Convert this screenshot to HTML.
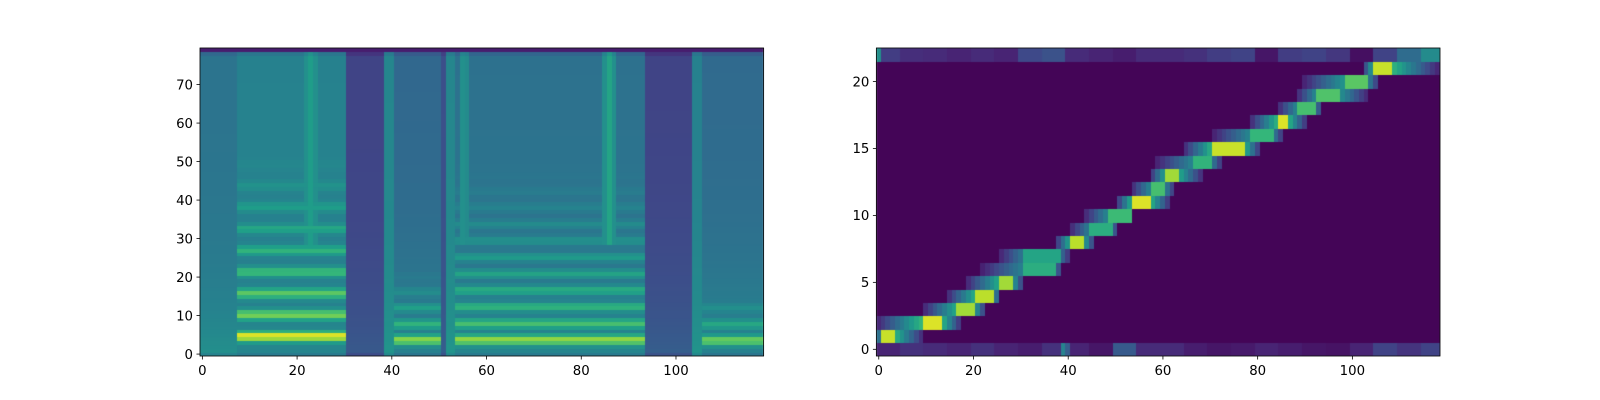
<!DOCTYPE html>
<html><head><meta charset="utf-8">
<style>
html,body{margin:0;padding:0;background:#fff;}
#wrap{position:relative;width:1600px;height:400px;overflow:hidden;}
canvas{position:absolute;left:0;top:0;}
svg{position:absolute;left:0;top:0;}
text{font-family:"DejaVu Sans","Liberation Sans",sans-serif;font-size:13.3px;fill:#000;}
</style></head>
<body>
<div id="wrap">
<canvas id="cv" width="1600" height="400"></canvas>
<svg id="sv" width="1600" height="400"></svg>
</div>
<script>
// ---------- Mel spectrogram data (119 frames x 80 bins) ----------
const specFrames = 119;
const specBins = 80;
const segStart   = [0, 8, 31, 39, 41, 51, 52, 54, 94, 104, 106];
const segEnd     = [7, 30, 38, 40, 50, 51, 53, 93, 103, 105, 118];
const segBase    = [0.38, 0.44, 0.2, 0.46, 0.33, 0.24, 0.46, 0.37, 0.2, 0.44, 0.34];
const segLow     = [0.5, 0.52, 0.28, 0.52, 0.5, 0.3, 0.52, 0.52, 0.3, 0.52, 0.5];
const segHarm    = [0, 0.45, 0, 0, 0.38, 0, 0, 0.34, 0, 0, 0.36];
const segSpacing = [5, 5.6, 5, 5, 4.2, 5, 5, 4.3, 5, 5, 4.3];
const segFirst   = [4, 4.7, 4, 4, 3.8, 4, 4, 3.8, 4, 4, 3.7];
const segTop     = [10, 52, 10, 10, 22, 10, 10, 48, 10, 10, 16];
const streakFrame = [22, 23, 24, 85, 86, 87, 55, 56];
const streakLevel = [0.5, 0.55, 0.5, 0.5, 0.58, 0.5, 0.5, 0.48];

// ---------- Attention alignment data ----------
const attRows   = [1,2,3,4,5,6,7,8,9,10,11,12,13,14,15,16,17,18,19,20,21];
const attFrom   = [0,0,10,15,19,22,26,38,41,44,51,54,58,59,65,71,79,85,89,90,103];
const attTo     = [9,17,22,25,30,38,40,45,50,53,61,62,68,72,80,85,90,93,103,105,118];
const attPeakA  = [1,10,17,21,26,31,31,41,45,49,54,58,61,67,71,79,85,89,93,99,105];
const attPeakB  = [3,13,20,24,28,37,38,43,49,53,57,60,63,70,77,83,86,92,97,103,108];
const attPeakV  = [0.92,0.95,0.86,0.9,0.86,0.62,0.58,0.9,0.62,0.68,0.95,0.7,0.86,0.65,0.92,0.66,0.95,0.7,0.72,0.74,0.92];
const row0Chunks  = [0.1,0.14,0.12,0.1,0.14,0.1,0.08,0.14,0.1,0.06,0.28,0.12,0.12,0.08,0.06,0.07,0.1,0.08,0.06,0.05,0.1,0.2,0.15,0.2];
const row22Chunks = [0.18,0.13,0.12,0.1,0.12,0.1,0.22,0.25,0.12,0.1,0.08,0.12,0.12,0.14,0.18,0.2,0.06,0.18,0.2,0.16,0.04,0.2,0.35,0.48];
const row0SpikeCol = [39, 40];
const row0SpikeVal = [0.45, 0.3];
const row22SpikeCol = [0];
const row22SpikeVal = [0.5];

const leftXTicks = [0,20,40,60,80,100];
const leftYTicks = [0,10,20,30,40,50,60,70];
const rightXTicks = [0,20,40,60,80,100];
const rightYTicks = [0,5,10,15,20];

const axL = {x0:200, x1:763.6, y0:48, y1:356, xmin:-0.5, xmax:118.5, ymin:-0.5, ymax:79.5};
const axR = {x0:876.4, x1:1440, y0:48, y1:356, xmin:-0.5, xmax:118.5, ymin:-0.5, ymax:22.5};
function sx(ax,v){return ax.x0 + (v-ax.xmin)/(ax.xmax-ax.xmin)*(ax.x1-ax.x0);}
function sy(ax,v){return ax.y1 - (v-ax.ymin)/(ax.ymax-ax.ymin)*(ax.y1-ax.y0);}

const VS=[[68,1,84],[72,40,120],[62,74,137],[49,104,142],[38,130,142],[31,158,137],[53,183,121],[109,205,89],[180,222,44],[253,231,37]];
function viridis(v){
  v=Math.max(0,Math.min(1,v));
  const p=v*(VS.length-1), i=Math.min(VS.length-2,Math.floor(p)), f=p-i;
  const a=VS[i],b=VS[i+1];
  return 'rgb('+Math.round(a[0]+(b[0]-a[0])*f)+','+Math.round(a[1]+(b[1]-a[1])*f)+','+Math.round(a[2]+(b[2]-a[2])*f)+')';
}

function specValue(t,b){
  let s=0;
  for(let i=0;i<segStart.length;i++){ if(t>=segStart[i]&&t<=segEnd[i]){s=i;break;} }
  let v = segBase[s] + (segLow[s]-segBase[s])*Math.exp(-b/20);
  if(b<1) v -= 0.05;
  if(segHarm[s]>0 && b<=segTop[s]+3){
    const k=Math.max(0,Math.round((b-segFirst[s])/segSpacing[s]));
    const c=segFirst[s]+k*segSpacing[s];
    const d=b-c;
    const band=Math.exp(-d*d/(2*0.9*0.9));
    const fall=Math.max(0,1-b/segTop[s]);
    const amp=segHarm[s]*(k===0?1.3:1);
    v += -0.06*fall + amp*band*fall;
  }
  for(let j=0;j<streakFrame.length;j++){
    if(streakFrame[j]===t && b>28) v=Math.max(v,streakLevel[j]);
  }
  if(b===79) v=0.08;
  else if(b===78) v-=0.05;
  return v;
}

function attValue(col,row){
  if(row===0){
    for(let j=0;j<row0SpikeCol.length;j++) if(row0SpikeCol[j]===col) return row0SpikeVal[j];
    return row0Chunks[Math.floor(col/5)];
  }
  if(row===22){
    for(let j=0;j<row22SpikeCol.length;j++) if(row22SpikeCol[j]===col) return row22SpikeVal[j];
    return row22Chunks[Math.floor(col/5)];
  }
  const i=attRows.indexOf(row);
  if(i<0) return 0;
  if(col<attFrom[i]||col>attTo[i]) return 0.01;
  const pv=attPeakV[i];
  if(col>=attPeakA[i]&&col<=attPeakB[i]) return pv;
  if(col<attPeakA[i]){
    const f=(col-attFrom[i]+1)/(attPeakA[i]-attFrom[i]+1);
    return 0.05+(pv*0.75-0.05)*f;
  } else {
    const f=(attTo[i]-col+1)/(attTo[i]-attPeakB[i]+1);
    return 0.05+(pv*0.75-0.05)*f;
  }
}

const ctx=document.getElementById('cv').getContext('2d');
for(let t=0;t<specFrames;t++){
  for(let b=0;b<specBins;b++){
    ctx.fillStyle=viridis(specValue(t,b));
    const x0=Math.floor(sx(axL,t-0.5)), x1=Math.ceil(sx(axL,t+0.5));
    const y0=Math.floor(sy(axL,b+0.5)), y1=Math.ceil(sy(axL,b-0.5));
    ctx.fillRect(x0,y0,x1-x0,y1-y0);
  }
}
for(let c=0;c<119;c++){
  for(let r=0;r<23;r++){
    ctx.fillStyle=viridis(attValue(c,r));
    const x0=Math.floor(sx(axR,c-0.5)), x1=Math.ceil(sx(axR,c+0.5));
    const y0=Math.floor(sy(axR,r+0.5)), y1=Math.ceil(sy(axR,r-0.5));
    ctx.fillRect(x0,y0,x1-x0,y1-y0);
  }
}
ctx.fillStyle='#fff';
ctx.fillRect(763.6,0,112.8,400);
ctx.fillRect(1440,0,160,400);
ctx.fillRect(0,356,1600,44);ctx.fillRect(0,0,1600,48);ctx.fillRect(0,0,200,400);

const NS='http://www.w3.org/2000/svg';
const sv=document.getElementById('sv');
function mk(tag,attrs,name,txt){
  const e=document.createElementNS(NS,tag);
  for(const k in attrs) e.setAttribute(k,attrs[k]);
  
  
  if(txt!==undefined) e.textContent=txt;
  sv.appendChild(e);return e;
}
function drawAxes(ax,xt,yt,prefix){
  mk('rect',{x:ax.x0,y:ax.y0,width:ax.x1-ax.x0,height:ax.y1-ax.y0,fill:'none',stroke:'#000','stroke-width':0.8},prefix+'-frame');
  xt.forEach(v=>{
    const x=sx(ax,v);
    mk('line',{x1:x,x2:x,y1:ax.y1,y2:ax.y1+3.5,stroke:'#000','stroke-width':0.8},prefix+'-x-tick');
    mk('text',{x:x,y:ax.y1+19,'text-anchor':'middle'},prefix+'-x-tick-label',String(v));
  });
  yt.forEach(v=>{
    const y=sy(ax,v);
    mk('line',{x1:ax.x0-3.5,x2:ax.x0,y1:y,y2:y,stroke:'#000','stroke-width':0.8},prefix+'-y-tick');
    mk('text',{x:ax.x0-7,y:y+4.8,'text-anchor':'end'},prefix+'-y-tick-label',String(v));
  });
}
drawAxes(axL,leftXTicks,leftYTicks,'spectrogram');
drawAxes(axR,rightXTicks,rightYTicks,'alignment');
</script>
</body></html>
